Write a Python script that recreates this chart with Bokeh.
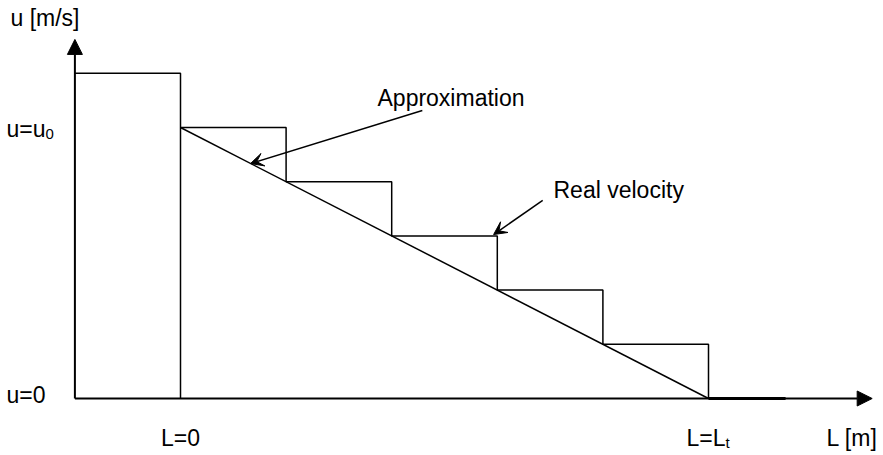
from bokeh.plotting import figure
from bokeh.models import Arrow, NormalHead, VeeHead, Range1d, ColumnDataSource
from bokeh.embed import file_html
from bokeh.resources import INLINE
from bokeh.core.properties import value

# ---- data (L in units of L_t, u in units of u0) ----
step_edges = [0.0, 0.2, 0.4, 0.6, 0.8, 1.0]
step_levels = [1.0, 0.8, 0.6, 0.4, 0.2]
inlet_start = -0.2
inlet_level = 1.2
real_L = [0.0, 1.0]
real_u = [1.0, 0.0]
tail_L = [1.0, 1.146]
x_axis_end = 1.31
y_axis_end = 1.325
approx_arrow = (0.458, 1.063, 0.1326, 0.867)
real_arrow = (0.686, 0.731, 0.593, 0.605)

# ---- layout ----
W, H = 883, 455
PX_L, PX_U = 528.0, 271.0       # pixels per unit
ORIG_X, ORIG_Y = 180.0, 398.0   # canvas pixel of (L=0, u=0)

def dx(px):   # pixel x -> data L
    return (px - ORIG_X) / PX_L

def dy(py):   # pixel y -> data u
    return (ORIG_Y - py) / PX_U

p = figure(width=W, height=H, output_backend="svg", toolbar_location=None,
           x_range=Range1d(-ORIG_X / PX_L, (W - ORIG_X) / PX_L),
           y_range=Range1d(-(H - ORIG_Y) / PX_U, ORIG_Y / PX_U),
           min_border=0)
p.axis.visible = False
p.grid.visible = False
p.outline_line_color = None
p.background_fill_color = "white"
p.border_fill_color = "white"

# step (approximation) path
xs = [inlet_start, step_edges[0], step_edges[0]]
ys = [inlet_level, inlet_level, 0.0]
p.line(xs, ys, line_color="black", line_width=1.5)
sx, sy = [], []
for i, lev in enumerate(step_levels):
    nxt = step_levels[i + 1] if i + 1 < len(step_levels) else 0.0
    sx += [step_edges[i], step_edges[i + 1], step_edges[i + 1]]
    sy += [lev, lev, nxt]
p.line(sx, sy, line_color="black", line_width=1.5)

# real velocity (linear)
p.line(real_L, real_u, line_color="black", line_width=1.5)

# tail segment along axis
p.line(tail_L, [0, 0], line_color="black", line_width=3)

# axes with arrow heads
p.add_layout(Arrow(end=NormalHead(size=15, fill_color="black", line_color="black"),
                   x_start=inlet_start, y_start=0, x_end=x_axis_end, y_end=0,
                   line_width=2, line_color="black"))
p.add_layout(Arrow(end=NormalHead(size=15, fill_color="black", line_color="black"),
                   x_start=inlet_start, y_start=0, x_end=inlet_start, y_end=y_axis_end,
                   line_width=2, line_color="black"))

# annotation arrows
for a in (approx_arrow, real_arrow):
    p.add_layout(Arrow(end=VeeHead(size=13, fill_color="black", line_color="black"),
                       x_start=a[0], y_start=a[1], x_end=a[2], y_end=a[3],
                       line_width=1.5, line_color="black"))

FONT = value("Liberation Sans")
main = ColumnDataSource(dict(
    x=[dx(10), dx(6), dx(6), 0.0, dx(686), dx(826), dx(377), dx(553)],
    y=[dy(17), dy(128), dy(394), dy(437), dy(437), dy(437), dy(97), dy(189)],
    text=["u [m/s]", "u=u", "u=0", "L=0", "L=L", "L [m]", "Approximation", "Real velocity"],
    align=["left", "left", "left", "center", "left", "left", "left", "left"],
))
p.text(x="x", y="y", text="text", source=main, text_align="align",
       text_baseline="middle", text_font=FONT, text_font_size="23px",
       text_color="black")
subs = ColumnDataSource(dict(x=[dx(45), dx(725)], y=[dy(133), dy(442)], text=["0", "t"]))
p.text(x="x", y="y", text="text", source=subs, text_align="left",
       text_baseline="middle", text_font=FONT, text_font_size="15px",
       text_color="black")

open("out.html", "w").write(file_html(p, INLINE))
